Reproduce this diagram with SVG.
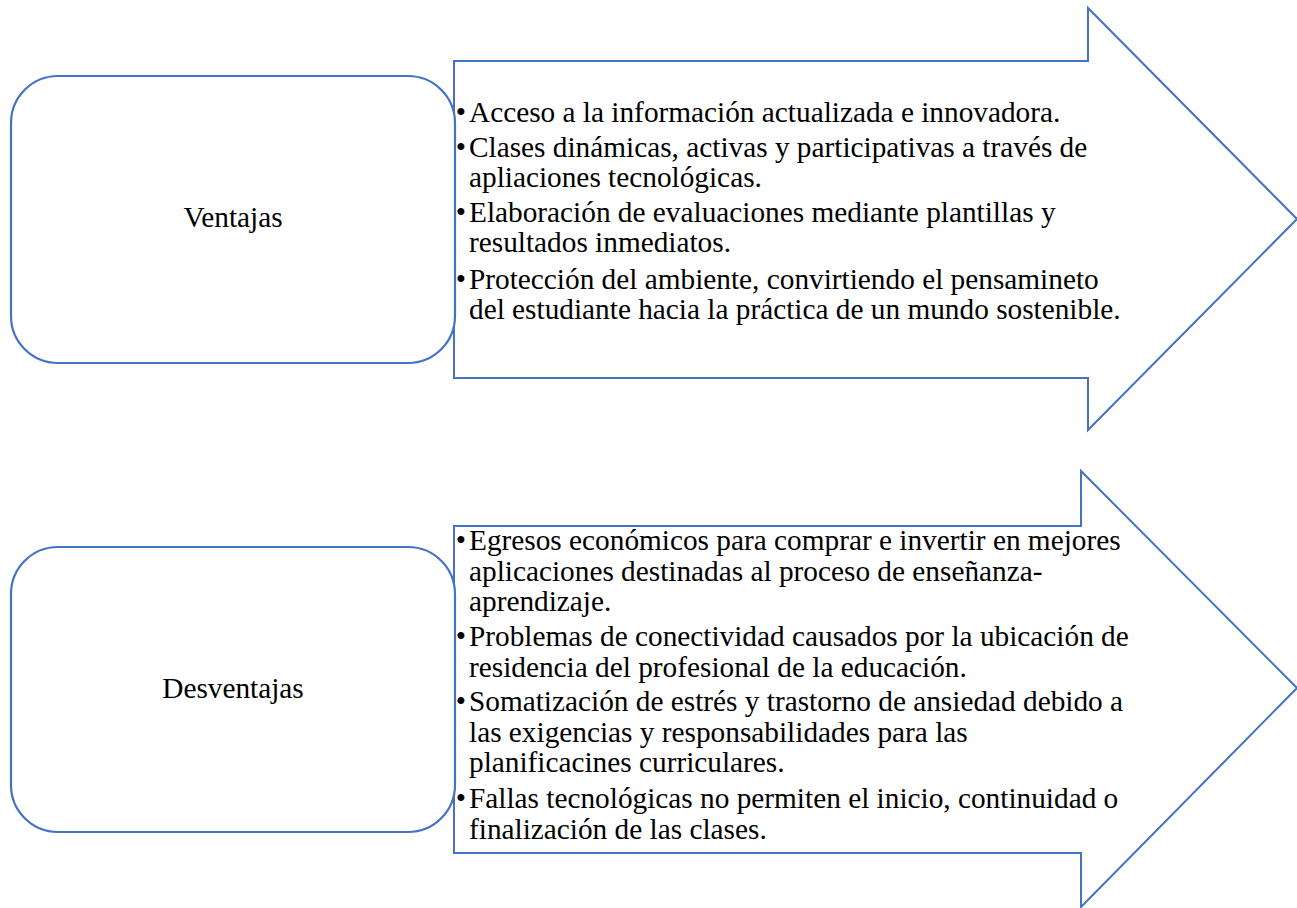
<svg xmlns="http://www.w3.org/2000/svg" width="1297" height="908" viewBox="0 0 1297 908">
  <style>
    .shape { fill: #FFFFFF; stroke: #4472C4; stroke-width: 2; stroke-linejoin: miter; }
    .box { fill: #FFFFFF; stroke: #4472C4; stroke-width: 2.2; }
    .t { font-family: "Liberation Serif", "Times New Roman", serif; font-size: 29.3px; fill: #000000; }
    .b { font-family: "Liberation Serif", "Times New Roman", serif; font-size: 29.3px; fill: #000000; text-anchor: middle; }
    .c { text-anchor: middle; }
  </style>
  <rect width="1297" height="908" fill="#FFFFFF"/>

  <g id="ventajas-list">
    <polygon class="shape" points="454,61 1088,61 1088,8 1297,219 1088,430 1088,378 454,378"/>
    <text class="b" x="461" y="122">•</text>
    <text class="t" x="469" y="122">Acceso a la información actualizada e innovadora.</text>
    <text class="b" x="461" y="157">•</text>
    <text class="t" x="469" y="157">Clases dinámicas, activas y participativas a través de</text>
    <text class="t" x="469" y="187">apliaciones tecnológicas.</text>
    <text class="b" x="461" y="222">•</text>
    <text class="t" x="469" y="222">Elaboración de evaluaciones mediante plantillas y</text>
    <text class="t" x="469" y="252">resultados inmediatos.</text>
    <text class="b" x="461" y="289">•</text>
    <text class="t" x="469" y="289">Protección del ambiente, convirtiendo el pensamineto</text>
    <text class="t" x="469" y="319">del estudiante hacia la práctica de un mundo sostenible.</text>
  </g>

  <g id="ventajas">
    <rect class="box" x="11" y="76" width="444" height="287" rx="47" ry="47"/>
    <text class="t c" x="233" y="227">Ventajas</text>
  </g>

  <g id="desventajas-list">
    <polygon class="shape" points="454,526 1081,526 1081,471 1297,688 1081,907 1081,853 454,853"/>
    <text class="b" x="461" y="550">•</text>
    <text class="t" x="469" y="550">Egresos económicos para comprar e invertir en mejores</text>
    <text class="t" x="469" y="580.5">aplicaciones destinadas al proceso de enseñanza-</text>
    <text class="t" x="469" y="611">aprendizaje.</text>
    <text class="b" x="461" y="646">•</text>
    <text class="t" x="469" y="646">Problemas de conectividad causados por la ubicación de</text>
    <text class="t" x="469" y="676.5">residencia del profesional de la educación.</text>
    <text class="b" x="461" y="711">•</text>
    <text class="t" x="469" y="711">Somatización de estrés y trastorno de ansiedad debido a</text>
    <text class="t" x="469" y="741.5">las exigencias y responsabilidades para las</text>
    <text class="t" x="469" y="772">planificacines curriculares.</text>
    <text class="b" x="461" y="808">•</text>
    <text class="t" x="469" y="808">Fallas tecnológicas no permiten el inicio, continuidad o</text>
    <text class="t" x="469" y="838.5">finalización de las clases.</text>
  </g>

  <g id="desventajas">
    <rect class="box" x="11" y="547" width="444" height="285" rx="47" ry="47"/>
    <text class="t c" x="233" y="698">Desventajas</text>
  </g>

  <g id="connectors"></g>
</svg>
